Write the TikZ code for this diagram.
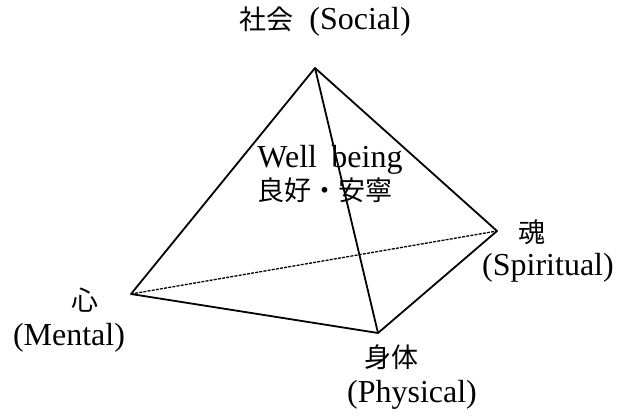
\documentclass[tikz,border=0pt]{standalone}
\usepackage{fontspec}
\setmainfont{Liberation Serif}
\newfontfamily\cjk{Noto Sans CJK JP}
\newcommand{\jp}[1]{{\fontsize{27}{30}\selectfont\cjk #1}}
\begin{document}
\begin{tikzpicture}[x=1pt,y=-1pt,
  edge/.style={line width=1.8pt, line join=round},
  backedge/.style={line width=1.3pt, dash pattern=on 3pt off 1.2pt},
  lbl/.style={font=\fontsize{32}{35}\selectfont, inner sep=0pt, anchor=center}]
\useasboundingbox (0,0) rectangle (617,419);
\coordinate (T) at (315,68);
\coordinate (L) at (131,294);
\coordinate (R) at (497,231);
\coordinate (B) at (378,333);
\draw[edge] (T) -- (L) -- (B) -- (R) -- cycle;
\draw[edge] (T) -- (B);
\draw[backedge] (L) -- (R);
\node[lbl] (soc) at (325,22) {\jp{社会}\hspace{0.5em}(Social)};
\node[lbl] (wb) at (330,160) {Well\hspace{0.45em}being};
\node[lbl] (wbj) at (325,190) {\jp{良好・安寧}};
\node[lbl] (mj) at (85,300) {\jp{心}};
\node[lbl] (me) at (69,338) {(Mental)};
\node[lbl] (sj) at (532,232) {\jp{魂}};
\node[lbl] (se) at (548,268) {(Spiritual)};
\node[lbl] (pj) at (391,357) {\jp{身体}};
\node[lbl] (pe) at (412,395) {(Physical)};
\end{tikzpicture}
\end{document}
